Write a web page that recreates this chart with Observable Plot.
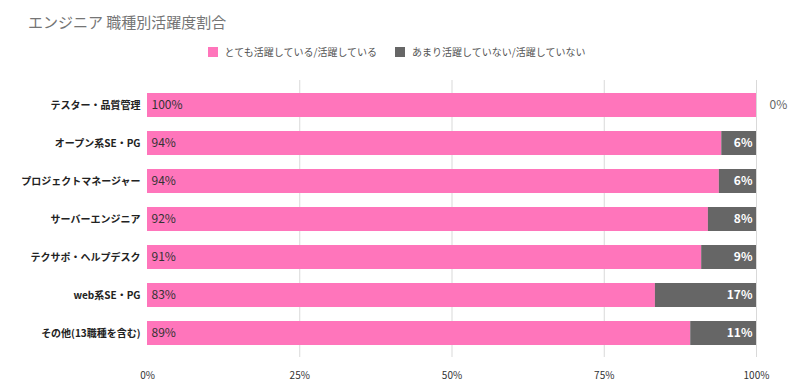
<!DOCTYPE html>
<html>
<head>
<meta charset="utf-8">
<script src="https://cdn.jsdelivr.net/npm/d3@7"></script>
<script src="https://cdn.jsdelivr.net/npm/@observablehq/plot@0.6"></script>
<style>
  body { margin: 0; background: #fff; font-family: "Noto Sans CJK JP", "Noto Sans", sans-serif; }
  #wrap { width: 793px; height: 392px; position: relative; overflow: hidden; }
  #title { position: absolute; left: 28px; top: 11px; font-size: 15px; color: #757575; white-space: nowrap; }
  #legend { position: absolute; left: 0; top: 44px; width: 793px; text-align: center; font-size: 10px; color: #555; white-space: nowrap; }
  #legend span.sw { display: inline-block; width: 10px; height: 10px; vertical-align: -1px; margin-right: 7px; }
  #legend span.item { margin: 0 9px; }
  #chart { position: absolute; left: 0; top: 68px; }
</style>
</head>
<body>
<div id="wrap">
  <div id="title">エンジニア 職種別活躍度割合</div>
  <div id="legend"></div>
  <div id="chart"></div>
</div>
<script>
const categories = ["テスター・品質管理", "オープン系SE・PG", "プロジェクトマネージャー", "サーバーエンジニア", "テクサポ・ヘルプデスク", "web系SE・PG", "その他(13職種を含む)"];
const active = [100, 94.3, 93.9, 92.1, 91.0, 83.4, 89.2];
const inactive = [0, 5.7, 6.1, 7.9, 9.0, 16.6, 10.8];
const activeLabels = ["100%", "94%", "94%", "92%", "91%", "83%", "89%"];
const inactiveLabels = ["0%", "6%", "6%", "8%", "9%", "17%", "11%"];
const seriesNames = ["とても活躍している/活躍している", "あまり活躍していない/活躍していない"];
const colors = ["#ff75bb", "#666666"];
const xTicks = [0, 25, 50, 75, 100];

const legend = document.getElementById("legend");
legend.innerHTML = seriesNames.map((s, i) =>
  `<span class="item"><span class="sw" style="background:${colors[i]}"></span>${s}</span>`).join("");

const rows = [];
categories.forEach((c, i) => {
  rows.push({cat: c, series: seriesNames[0], value: active[i], label: activeLabels[i]});
  rows.push({cat: c, series: seriesNames[1], value: inactive[i], label: inactiveLabels[i]});
});
const tbl = categories.map((c, i) => ({cat: c, a: active[i], b: inactive[i], la: activeLabels[i], lb: inactiveLabels[i]}));

const chart = Plot.plot({
  width: 793,
  height: 324,
  marginLeft: 147,
  marginRight: 37,
  marginTop: 12,
  marginBottom: 35,
  style: {fontFamily: '"Noto Sans CJK JP", "Noto Sans", sans-serif', background: "#fff"},
  x: {domain: [0, 100], ticks: xTicks, tickFormat: d => d + "%", label: null, grid: false},
  y: {domain: categories, label: null, padding: 0.37, paddingOuter: 0.27},
  color: {domain: seriesNames, range: colors},
  marks: [
    Plot.ruleX(xTicks.slice(1), {stroke: "#d9d9d9", strokeWidth: 1}),
    Plot.barX(rows, Plot.stackX({x: "value", y: "cat", fill: "series", order: seriesNames, offset: null})),
    Plot.text(tbl, {x: 0, y: "cat", text: "la", textAnchor: "start", dx: 4, fill: "#333", fontSize: 12}),
    Plot.text(tbl.filter(d => d.b > 0), {x: 100, y: "cat", text: "lb", textAnchor: "end", dx: -4, fill: "#fff", fontSize: 12, fontWeight: "bold"}),
    Plot.text(tbl.filter(d => d.b === 0), {x: 100, y: "cat", text: "lb", textAnchor: "start", dx: 13, fill: "#666", fontSize: 12}),
    Plot.axisX({ticks: xTicks, tickFormat: d => d + "%", tickSize: 0, tickPadding: 14, fontSize: 10, fill: "#333", label: null}),
    Plot.axisY({tickSize: 0, tickPadding: 7, fontSize: 10, fontWeight: "bold", fill: "#222", label: null}),
    Plot.ruleX([0], {y1: categories[0], y2: categories[categories.length - 1], stroke: "#333", insetTop: -14, insetBottom: -23})
  ]
});
document.getElementById("chart").appendChild(chart);
</script>
</body>
</html>
